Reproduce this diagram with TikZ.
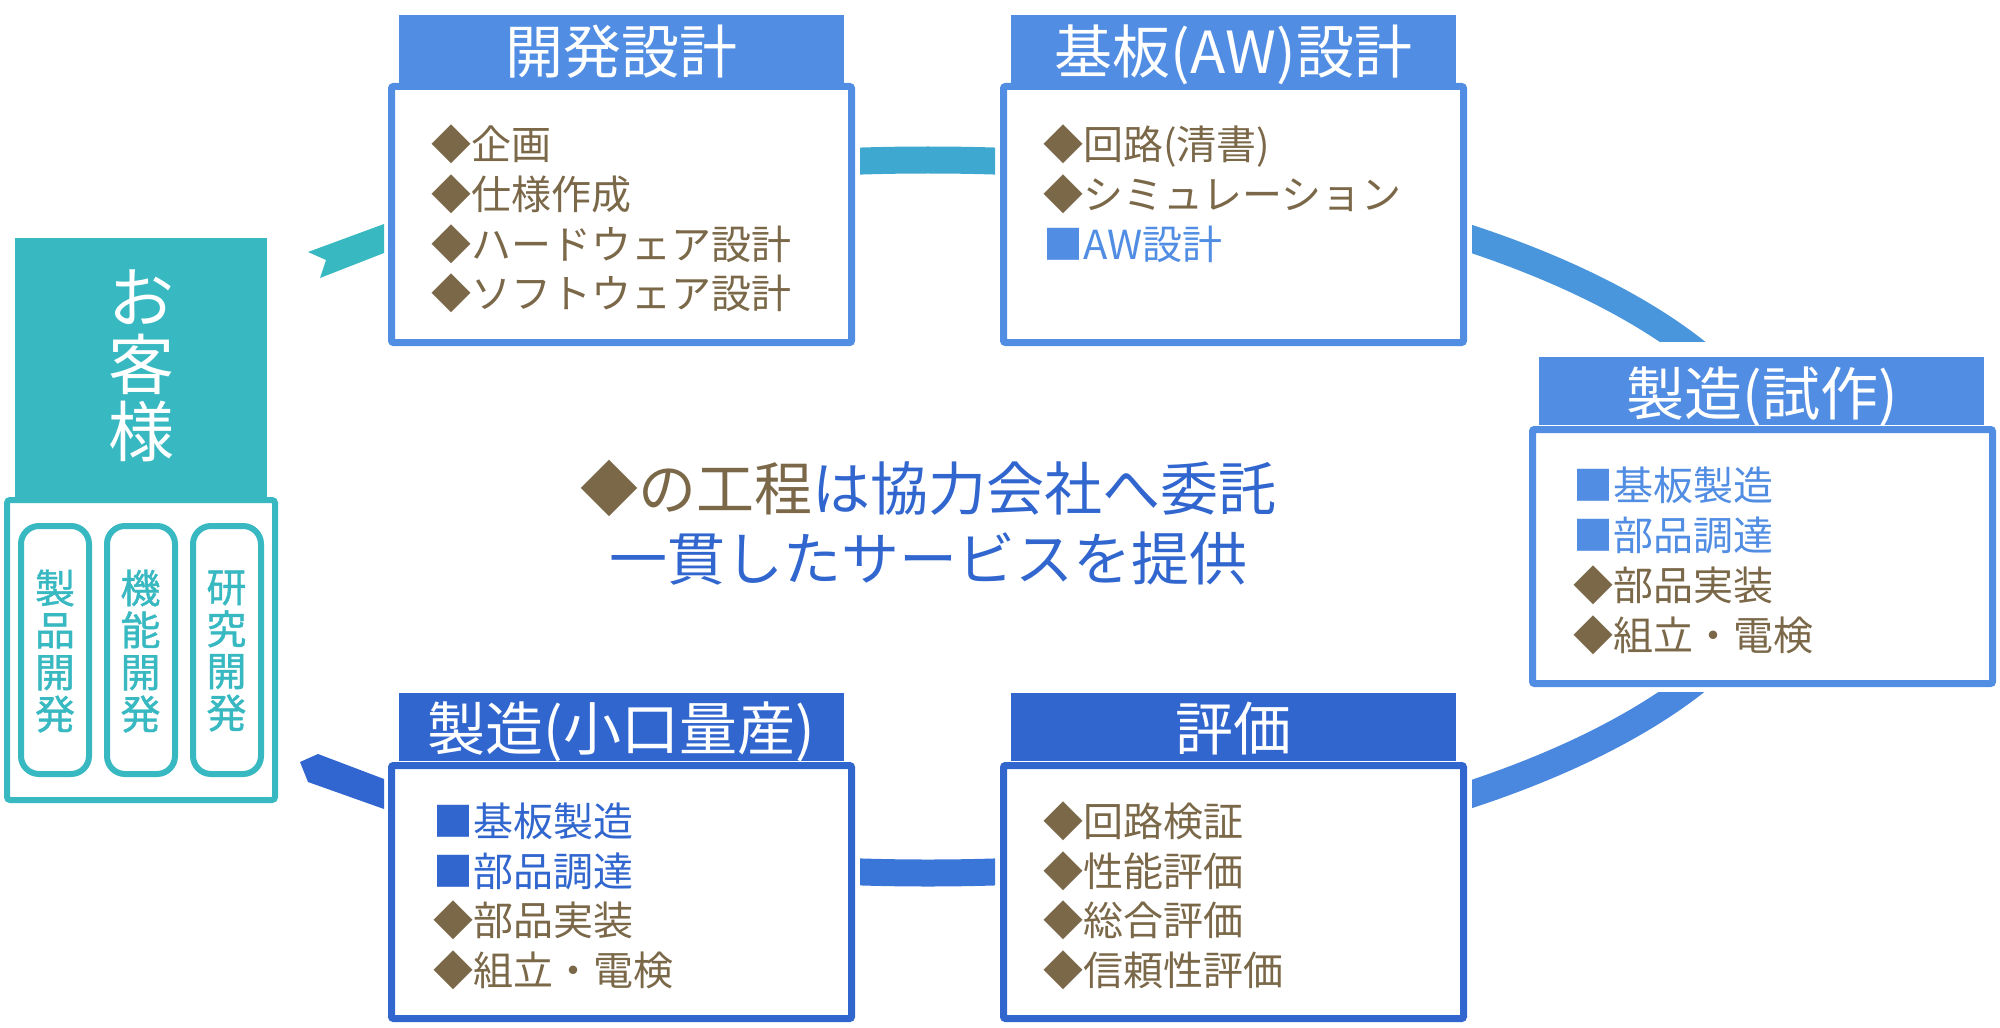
\documentclass[tikz,border=0pt]{standalone}
\usepackage{fontspec}
\setmainfont{Noto Sans CJK JP}
\newfontfamily\pillfont[FakeBold=1]{Noto Sans CJK JP}
\definecolor{teal1}{RGB}{56,185,193}
\definecolor{lb}{RGB}{80,141,227}
\definecolor{db}{RGB}{49,102,207}
\definecolor{brn}{RGB}{122,104,73}
\definecolor{ringT}{RGB}{63,168,208}
\definecolor{ringTR}{RGB}{74,150,220}
\definecolor{ringBR}{RGB}{74,136,224}
\definecolor{ringB}{RGB}{58,117,216}
\definecolor{ringBL}{RGB}{49,101,207}
\tikzset{
  hdr/.style={fill=#1, draw=none, inner sep=0pt, outer sep=0pt, anchor=north west, minimum width=222.5pt, minimum height=34pt},
  panel/.style={draw=#1, fill=white, line width=3.5pt, rounded corners=1pt, inner sep=0pt, outer sep=0pt, anchor=north west, minimum width=230pt},
  hdrtext/.style={anchor=base, inner sep=0pt, text=white, font=\fontsize{29pt}{34pt}\selectfont},
  item/.style={anchor=base west, inner sep=0pt, font=\fontsize{20pt}{25pt}\selectfont},
  ring/.style={line width=13.5pt},
  pill/.style={draw=teal1, line width=3pt, rounded corners=9pt, inner sep=0pt, outer sep=0pt, anchor=north west, minimum width=34pt, minimum height=124pt},
  pilltext/.style={inner sep=0pt, align=center, text=teal1, font=\pillfont\fontsize{20pt}{21pt}\selectfont}
}
\begin{document}
\begin{tikzpicture}[x=0.5pt,y=-0.5pt]
\useasboundingbox (0,0) rectangle (2000,1027);

% ---- ring segments (cycle) ----
\coordinate (ctr) at (928,516.5);
\begin{scope}
  \clip (860,0) rectangle (995,400);
  \draw[ring, draw=ringT] (ctr) ellipse [x radius=866, y radius=356.5];
\end{scope}
\begin{scope}
  \clip (1472,0) rectangle (2000,341);
  \draw[ring, draw=ringTR] (ctr) ellipse [x radius=866, y radius=356.5];
\end{scope}
\begin{scope}
  \clip (1472,692) rectangle (2000,1027);
  \draw[ring, draw=ringBR] (ctr) ellipse [x radius=866, y radius=356.5];
\end{scope}
\begin{scope}
  \clip (860,640) rectangle (995,1027);
  \draw[ring, draw=ringB] (ctr) ellipse [x radius=866, y radius=356.5];
\end{scope}
% left ends
\coordinate (tl1) at (308,252); \coordinate (tl2) at (384,224);
\coordinate (tl3) at (384,253); \coordinate (tl4) at (320,278);
\coordinate (tl5) at (326,260);
\fill[teal1] (tl1) -- (tl2) -- (tl3) -- (tl4) -- (tl5) -- cycle;
\coordinate (bl1) at (300,762); \coordinate (bl2) at (318,754);
\coordinate (bl3) at (384,779); \coordinate (bl4) at (384,809);
\coordinate (bl5) at (308,782);
\fill[ringBL] (bl1) -- (bl2) -- (bl3) -- (bl4) -- (bl5) -- cycle;

% ---- customer ----
\node[fill=teal1, inner sep=0pt, outer sep=0pt, anchor=north west, minimum width=126pt, minimum height=129.5pt] (kyakuh) at (15,238) {};
\node[draw=teal1, fill=white, line width=3pt, rounded corners=1.5pt, inner sep=0pt, outer sep=0pt, anchor=north west, minimum width=134pt, minimum height=150pt] (kyaku) at (7,500) {};
\node[inner sep=0pt, align=center, text=white, font=\fontsize{33pt}{33.5pt}\selectfont] (kyakut) at (141,365.5) {お\\客\\様};
\node[pill] (p1) at (21,526) {};
\node[pill] (p2) at (107,526) {};
\node[pill] (p3) at (193,526) {};
\node[pilltext] (p1t) at (55,651) {製\\品\\開\\発};
\node[pilltext] (p2t) at (140.5,651) {機\\能\\開\\発};
\node[pilltext] (p3t) at (226.5,651) {研\\究\\開\\発};

% ---- 開発設計 ----
\node[hdr=lb] (kaihatsuh) at (399,15) {};
\node[panel=lb, minimum height=128pt] (kaihatsu) at (391.5,86.5) {};
\node[hdrtext] (kaihatsut) at (621.5,73.5) {開発設計};
\node[item, text=brn] (k1) at (431,160) {◆企画};
\node[item, text=brn] (k2) at (431,210) {◆仕様作成};
\node[item, text=brn] (k3) at (431,259) {◆ハードウェア設計};
\node[item, text=brn] (k4) at (431,308) {◆ソフトウェア設計};

% ---- 基板(AW)設計 ----
\node[hdr=lb] (kibanh) at (1011,15) {};
\node[panel=lb, minimum height=128pt] (kiban) at (1003.5,86.5) {};
\node[hdrtext] (kibant) at (1233.5,73.5) {基板(AW)設計};
\node[item, text=brn] (b1) at (1043,160) {◆回路(清書)};
\node[item, text=brn] (b2) at (1043,210) {◆シミュレーション};
\node[item, text=lb] (b3) at (1043,259) {■AW設計};

% ---- 製造(試作) ----
\node[hdr=lb] (shisakuh) at (1539,357) {};
\node[panel=lb, minimum height=127pt] (shisaku) at (1532.5,429.5) {};
\node[hdrtext] (shisakut) at (1762,415) {製造(試作)};
\node[item, text=lb] (s1) at (1573,500) {■基板製造};
\node[item, text=lb] (s2) at (1573,550) {■部品調達};
\node[item, text=brn] (s3) at (1573,600) {◆部品実装};
\node[item, text=brn] (s4) at (1573,650) {◆組立・電検};

% ---- 製造(小口量産) ----
\node[hdr=db] (ryosanh) at (399,693) {};
\node[panel=db, minimum height=126.5pt] (ryosan) at (391.5,765.5) {};
\node[hdrtext] (ryosant) at (621.5,750) {製造(小口量産)};
\node[item, text=db] (r1) at (433,836) {■基板製造};
\node[item, text=db] (r2) at (433,886) {■部品調達};
\node[item, text=brn] (r3) at (433,935) {◆部品実装};
\node[item, text=brn] (r4) at (433,985) {◆組立・電検};

% ---- 評価 ----
\node[hdr=db] (hyokah) at (1011,693) {};
\node[panel=db, minimum height=126.5pt] (hyoka) at (1003.5,765.5) {};
\node[hdrtext] (hyokat) at (1233.5,750) {評価};
\node[item, text=brn] (h1) at (1043,836) {◆回路検証};
\node[item, text=brn] (h2) at (1043,886) {◆性能評価};
\node[item, text=brn] (h3) at (1043,935) {◆総合評価};
\node[item, text=brn] (h4) at (1043,985) {◆信頼性評価};

% ---- centre message ----
\node[anchor=base, inner sep=0pt, font=\fontsize{29pt}{34pt}\selectfont] (msg1) at (928,510.5) {\textcolor{brn}{◆の工程}\textcolor{db}{は協力会社へ委託}};
\node[anchor=base, inner sep=0pt, text=db, font=\fontsize{29pt}{34pt}\selectfont] (msg2) at (928,580.5) {一貫したサービスを提供};
\end{tikzpicture}
\end{document}
